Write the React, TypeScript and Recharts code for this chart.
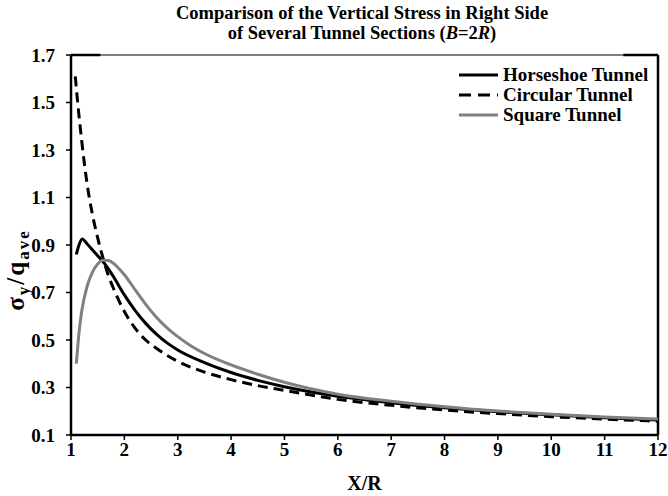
import { Legend, Line, LineChart, ReferenceLine, XAxis, YAxis } from "recharts";

// distance from tunnel centre, normalised by radius
const circularX = [1.08, 1.1, 1.2, 1.3, 1.4, 1.5, 1.6, 1.7, 1.8, 2.0, 2.2, 2.4, 2.6, 2.8, 3, 3.5, 4, 4.5, 5, 6, 7, 8, 9, 10, 11, 12];
const circularY = [1.61, 1.56, 1.34, 1.16, 1.03, 0.93, 0.845, 0.772, 0.715, 0.62, 0.55, 0.5, 0.465, 0.435, 0.41, 0.365, 0.333, 0.308, 0.288, 0.25, 0.225, 0.205, 0.19, 0.177, 0.167, 0.158];

const horseshoeX = [1.1, 1.15, 1.21, 1.3, 1.4, 1.5, 1.6, 1.7, 1.8, 2.0, 2.2, 2.4, 2.6, 2.8, 3, 3.5, 4, 4.5, 5, 6, 7, 8, 9, 10, 11, 12];
const horseshoeY = [0.86, 0.9, 0.925, 0.905, 0.88, 0.855, 0.83, 0.8, 0.765, 0.69, 0.625, 0.57, 0.525, 0.488, 0.458, 0.405, 0.363, 0.33, 0.303, 0.263, 0.236, 0.215, 0.198, 0.185, 0.173, 0.163];

const squareX = [1.1, 1.15, 1.2, 1.3, 1.4, 1.5, 1.6, 1.7, 1.8, 1.9, 2.0, 2.2, 2.4, 2.6, 2.8, 3, 3.25, 3.5, 4, 4.5, 5, 6, 7, 8, 9, 10, 11, 12];
const squareY = [0.4, 0.53, 0.62, 0.725, 0.785, 0.82, 0.836, 0.835, 0.822, 0.8, 0.775, 0.712, 0.65, 0.596, 0.551, 0.514, 0.475, 0.443, 0.395, 0.356, 0.322, 0.272, 0.242, 0.219, 0.201, 0.187, 0.176, 0.167];

const xTicks = [1, 2, 3, 4, 5, 6, 7, 8, 9, 10, 11, 12];
const yTicks = [0.1, 0.3, 0.5, 0.7, 0.9, 1.1, 1.3, 1.5, 1.7];

const series = [
  { name: "Horseshoe Tunnel", xs: horseshoeX, ys: horseshoeY, color: "#000000", dash: undefined },
  { name: "Circular Tunnel", xs: circularX, ys: circularY, color: "#000000", dash: "10 6" },
  { name: "Square Tunnel", xs: squareX, ys: squareY, color: "#808080", dash: undefined },
];

const toPoints = (xs: number[], ys: number[]) => xs.map((x, i) => ({ x, y: ys[i] }));

const FONT = '"Liberation Serif", "Times New Roman", serif';
const tickStyle = { fontFamily: FONT, fontWeight: 700, fontSize: 19, fill: "#000" };

const renderLegend = () => (
  <div style={{ fontFamily: FONT, fontWeight: 700, fontSize: 19, color: "#000" }}>
    {series.map((s) => (
      <div key={s.name} style={{ display: "flex", alignItems: "center", height: 20 }}>
        <svg width={39} height={6} style={{ marginRight: 5 }}>
          <line x1={0} y1={3} x2={39} y2={3} stroke={s.color} strokeWidth={3} strokeDasharray={s.dash ? "12 7" : undefined} />
        </svg>
        <span style={{ whiteSpace: "nowrap" }}>{s.name}</span>
      </div>
    ))}
  </div>
);

const renderYLabel = () => (
  <text
    transform="translate(24, 270) rotate(-90)"
    textAnchor="middle"
    fontFamily={FONT}
    fontWeight={700}
    fontSize={25}
    letterSpacing={2}
    fill="#000"
  >
    σ<tspan fontSize={17} dy={5}>y</tspan>
    <tspan dy={-5}>/q</tspan>
    <tspan fontSize={17} dy={5}>ave</tspan>
  </text>
);

export default function App() {
  return (
    <div style={{ position: "absolute", left: 0, top: 0, width: 668, height: 496, background: "#fff" }}>
      <div
        style={{
          position: "absolute",
          left: 0,
          top: 3,
          width: 724,
          textAlign: "center",
          fontFamily: FONT,
          fontWeight: 700,
          fontSize: 18.5,
          lineHeight: "20px",
          color: "#000",
        }}
      >
        Comparison of the Vertical Stress in Right Side
        <br />
        of Several Tunnel Sections (<i>B</i>=2<i>R</i>)
      </div>
      <LineChart width={668} height={496} margin={{ top: 55, right: 10, bottom: 0, left: 0 }}>
        <XAxis
          type="number"
          dataKey="x"
          domain={[1, 12]}
          ticks={xTicks}
          allowDataOverflow
          height={61}
          axisLine={{ stroke: "#000", strokeWidth: 2.5 }}
          tickLine={{ stroke: "#000", strokeWidth: 1.5 }}
          tickSize={5}
          tickMargin={3}
          tick={tickStyle}
          label={{ value: "X/R", position: "insideBottom", offset: 6, style: { fontFamily: FONT, fontWeight: 700, fontSize: 20, fill: "#000" } }}
        />
        <YAxis
          type="number"
          domain={[0.1, 1.7]}
          ticks={yTicks}
          width={71}
          axisLine={{ stroke: "#000", strokeWidth: 2.5 }}
          tickLine={{ stroke: "#000", strokeWidth: 1.5 }}
          tickSize={5}
          tickMargin={11}
          tick={tickStyle}
          tickFormatter={(v: number) => v.toFixed(1)}
          label={{ content: renderYLabel }}
        />
        {/* plot frame: thin top edge, heavy right edge and corner pieces */}
        <ReferenceLine y={1.7} stroke="#000" strokeWidth={1} />
        <ReferenceLine x={12} stroke="#000" strokeWidth={2.5} />
        <ReferenceLine segment={[{ x: 1, y: 1.7 }, { x: 1.55, y: 1.7 }]} stroke="#000" strokeWidth={2.5} />
        <ReferenceLine segment={[{ x: 11.35, y: 1.7 }, { x: 12, y: 1.7 }]} stroke="#000" strokeWidth={2.5} />
        {series.map((s) => (
          <Line
            key={s.name}
            data={toPoints(s.xs, s.ys)}
            dataKey="y"
            name={s.name}
            type="monotone"
            stroke={s.color}
            strokeWidth={3}
            strokeDasharray={s.dash}
            dot={false}
            activeDot={false}
            isAnimationActive={false}
          />
        ))}
        <Legend
          layout="horizontal"
          verticalAlign="middle"
          align="center"
          content={renderLegend}
          wrapperStyle={{ top: 65, left: 459, width: 205, height: 60 }}
        />
      </LineChart>
    </div>
  );
}
